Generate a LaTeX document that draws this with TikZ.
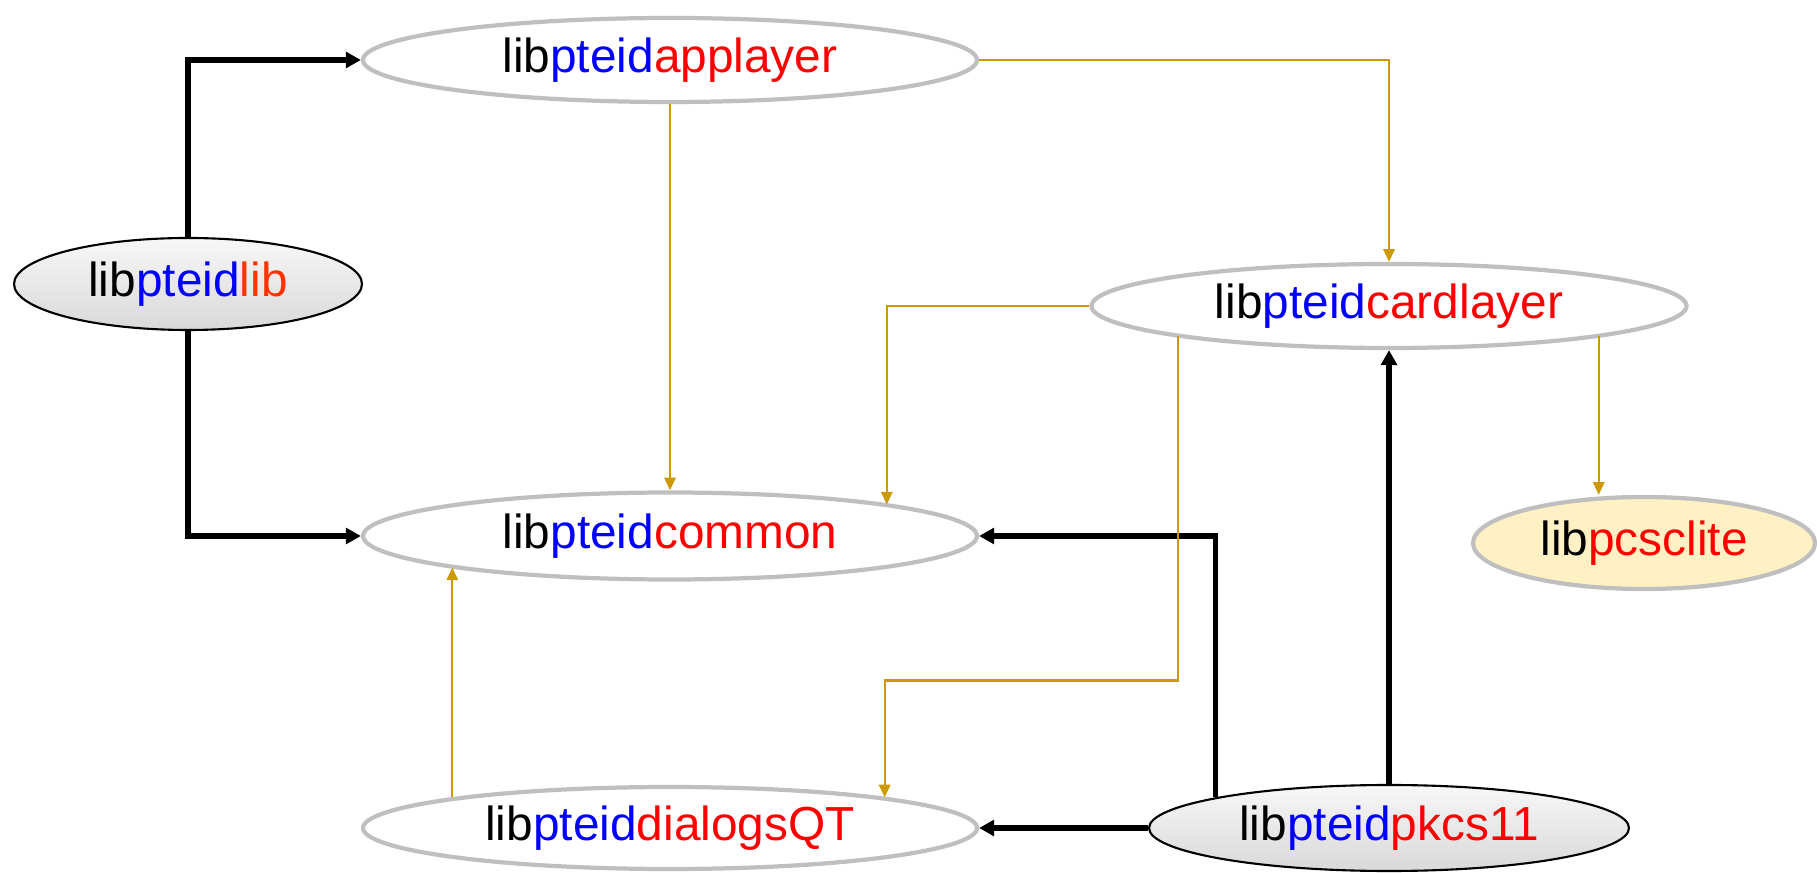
\documentclass[tikz,border=0pt]{standalone}
\usepackage{fontspec}
\setmainfont{Liberation Sans}
\usepackage{xcolor}
\usepackage{tikz}
\usetikzlibrary{arrows.meta, shapes.geometric, calc}

\definecolor{pteidblue}{RGB}{0,0,255}
\definecolor{pteidred}{RGB}{255,0,0}
\definecolor{liborange}{RGB}{255,51,0}
\definecolor{ringgray}{RGB}{191,191,191}
\definecolor{usegold}{RGB}{204,153,0}
\definecolor{pcscfill}{RGB}{255,241,196}

% lib + blue middle part + red tail
\newcommand{\libname}[3][pteidred]{lib\textcolor{pteidblue}{#2}\textcolor{#1}{#3}}

\begin{document}
\begin{tikzpicture}[
    module/.style={ellipse, draw=ringgray, line width=1.2pt, fill=white, inner sep=0pt,
      font=\fontsize{13.6}{16}\selectfont},
    shadedmodule/.style={module, draw=black, line width=0.6pt, top color=gray!6, bottom color=gray!30},
    deplink/.style={line width=1.6pt, -{Triangle[length=4.3pt,width=4.5pt]}},
    uselink/.style={usegold, line width=0.65pt, -{Triangle[length=3.6pt,width=3.2pt]}}
  ]
  \useasboundingbox (0,0) rectangle (18.17,8.72);

  % modules
  \node[module, minimum width=6.14cm, minimum height=0.84cm] (applayer) at (6.70,8.12) {\libname{pteid}{applayer}};
  \node[shadedmodule, minimum width=3.48cm, minimum height=0.92cm] (pteidlib) at (1.88,5.88) {\libname[liborange]{pteid}{lib}};
  \node[module, minimum width=5.95cm, minimum height=0.84cm] (cardlayer) at (13.89,5.66) {\libname{pteid}{cardlayer}};
  \node[module, minimum width=6.14cm, minimum height=0.87cm] (common) at (6.70,3.36) {\libname{pteid}{common}};
  \node[module, fill=pcscfill, minimum width=3.42cm, minimum height=0.92cm] (pcsclite) at (16.44,3.29) {\libname{}{pcsclite}};
  \node[module, minimum width=6.14cm, minimum height=0.82cm] (dialogs) at (6.70,0.44) {\libname{pteid}{dialogsQT}};
  \node[shadedmodule, minimum width=4.80cm, minimum height=0.86cm] (pkcs11) at (13.89,0.44) {\libname{pteid}{pkcs11}};

  % direct dependencies
  \draw[deplink] (pteidlib.north) |- (applayer.west);
  \draw[deplink] (pteidlib.south) |- (common.west);
  \draw[deplink] (pkcs11.170) |- (common.east);
  \draw[deplink] (pkcs11) -- (cardlayer);
  \draw[deplink] (pkcs11.west) -- (dialogs.east);

  % internal use
  \coordinate (pcscout) at ([xshift=-0.07cm]cardlayer.352);
  \draw[uselink] (applayer.east) -| (cardlayer.north);
  \draw[uselink] (applayer) -- (common);
  \draw[uselink] (cardlayer.west) -| ([xshift=-0.07cm]common.8);
  \draw[uselink] ([xshift=0.06cm]cardlayer.188) -- ++(0,-3.44) -| ([xshift=-0.03cm]dialogs.8);
  \draw[uselink] (pcscout) -- (pcscout |- pcsclite.north);
  \draw[uselink] (dialogs.172) -- (dialogs.172 |- common.188);
\end{tikzpicture}
\end{document}
